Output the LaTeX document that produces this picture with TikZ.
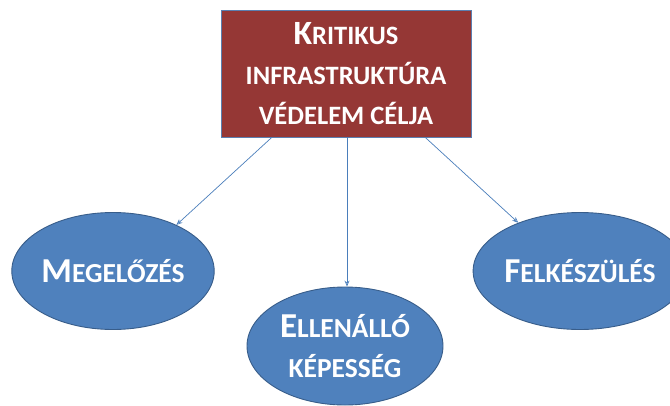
\documentclass[tikz,border=0pt]{standalone}
\usepackage{fontspec}
\setmainfont{Carlito}
\usetikzlibrary{shapes.geometric,arrows.meta,calc}
\definecolor{boxred}{HTML}{953735}
\definecolor{boxedge}{HTML}{5B7FB0}
\definecolor{elblue}{HTML}{4F81BD}
\definecolor{elborder}{HTML}{385D8A}
\definecolor{arrowblue}{HTML}{4A7EBB}
\newcommand\capA[1]{{\fontsize{34}{40}\selectfont #1}}
\newcommand\capE[1]{{\fontsize{35}{40}\selectfont #1}}
\tikzset{
  goalbox/.style={draw=boxedge, line width=0.8pt, fill=boxred, minimum width=250pt, minimum height=127pt,
    inner sep=0pt, align=center, text=white, font=\bfseries\fontsize{26.5}{40}\selectfont},
  aimellipse/.style={ellipse, draw=elborder, line width=0.9pt, fill=elblue, minimum width=200pt, minimum height=117pt,
    inner sep=0pt, align=center, text=white, font=\bfseries\fontsize{27.5}{40}\selectfont},
  conn/.style={draw=arrowblue, line width=0.7pt, -{Stealth[length=6pt,width=5pt,open,fill=white]}}
}
\begin{document}
\begin{tikzpicture}[x=1pt,y=-1pt]
\useasboundingbox (0,0) rectangle (670,405);
\clip (0,0) rectangle (670,405);
\node[goalbox] (goal) at (346,73.5) {\capA{K}RITIKUS\\INFRASTRUKTÚRA\\VÉDELEM CÉLJA};
\node[aimellipse] (prev) at (113,271) {\capE{M}EGELŐZÉS};
\node[aimellipse, minimum width=196pt, minimum height=118pt] (resil) at (345,346) {\capE{E}LLENÁLLÓ\\KÉPESSÉG};
\node[aimellipse] (prep) at (580,271) {\capE{F}ELKÉSZÜLÉS};
\coordinate (s1) at ($(goal.south west)!0.204!(goal.south east)$);
\coordinate (s2) at ($(goal.south west)!0.504!(goal.south east)$);
\coordinate (s3) at ($(goal.south west)!0.816!(goal.south east)$);
\draw[conn] (s1) -- (prev.36);
\draw[conn] (s2) -- (s2 |- resil.north);
\draw[conn] (s3) -- (prep.142);
\end{tikzpicture}
\end{document}
